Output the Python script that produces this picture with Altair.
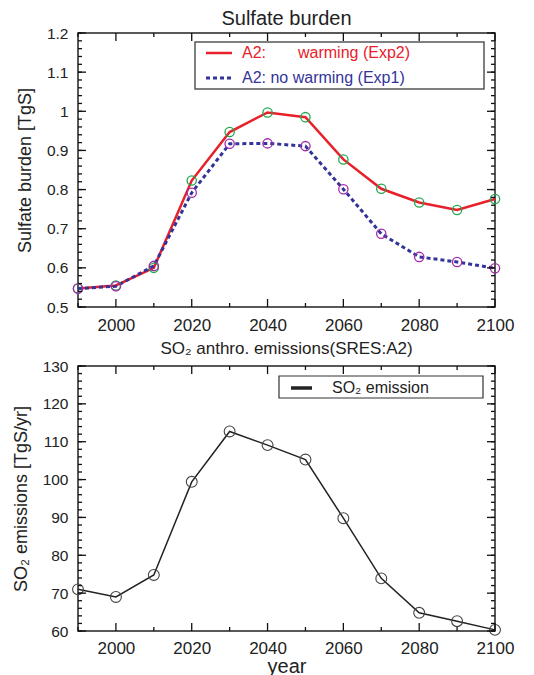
import altair as alt
import pandas as pd

FONT = "Liberation Sans"
TXT = "#222222"
RED = "#e8202a"
BLUE = "#33339a"
GREEN = "#1fa84f"
PURPLE = "#a22aa8"

years = [1990, 2000, 2010, 2020, 2030, 2040, 2050, 2060, 2070, 2080, 2090, 2100]
burden_warming = [0.547, 0.555, 0.600, 0.823, 0.947, 0.997, 0.985, 0.877, 0.802, 0.767, 0.748, 0.776]
burden_no_warming = [0.547, 0.553, 0.605, 0.792, 0.917, 0.918, 0.911, 0.801, 0.687, 0.628, 0.615, 0.599]
so2_emission = [71.0, 69.0, 74.8, 99.4, 112.7, 109.1, 105.3, 89.8, 73.9, 64.8, 62.6, 60.3]

x_major_ticks = [2000, 2020, 2040, 2060, 2080, 2100]
x_minor_ticks = [1990, 2010, 2030, 2050, 2070, 2090]
burden_major_ticks = [0.5, 0.6, 0.7, 0.8, 0.9, 1.0, 1.1, 1.2]
burden_minor_ticks = [round(0.5 + 0.02 * i, 2) for i in range(36)]
so2_major_ticks = [60, 70, 80, 90, 100, 110, 120, 130]
so2_minor_ticks = [60 + 2 * i for i in range(36)]

top_df = pd.DataFrame({"year": years, "warming": burden_warming, "no_warming": burden_no_warming})
bot_df = pd.DataFrame({"year": years, "so2": so2_emission})
one_row = pd.DataFrame({"k": [0]})

W = 417
H_TOP = 274
H_BOT = 265
X_DOM = [1990, 2100]


def label_layer(df, ycol, ydom, ymaj, ytitle, xtitle, yfmt, label_pad):
    xs = alt.Scale(domain=X_DOM, nice=False, zero=False)
    ys = alt.Scale(domain=ydom, nice=False, zero=False)
    xaxis_kw = dict(orient="bottom", values=x_major_ticks, ticks=False, tickSize=0, domain=False,
                    grid=False, format="d", labelFontSize=17, labelPadding=label_pad,
                    labelFont=FONT, labelColor=TXT, labelFlush=False, labelOverlap=False)
    if xtitle:
        xaxis = alt.Axis(title=xtitle, titleFont=FONT, titleFontSize=20,
                         titleFontWeight="normal", titleColor=TXT, titlePadding=0, **xaxis_kw)
    else:
        xaxis = alt.Axis(title=None, **xaxis_kw)
    layer = alt.Chart(df).mark_point(opacity=0).encode(
        x=alt.X("year:Q", scale=xs, axis=xaxis),
        y=alt.Y(f"{ycol}:Q", scale=ys, axis=alt.Axis(
            orient="left", values=ymaj, ticks=False, tickSize=0, domain=False,
            grid=False, format=yfmt, labelFontSize=15.5, labelPadding=10, labelFont=FONT,
            labelColor=TXT, labelFlush=False, labelOverlap=False, title=ytitle,
            titleFont=FONT, titleFontSize=18, titleFontWeight="normal", titleColor=TXT,
            titlePadding=12)),
    )
    return layer, xs, ys


def tick_layers(xs, ys, ydom, ymaj, ymin, H):
    """Inward frame ticks on all four sides; tick length in px converted to data units."""
    ylo, yhi = ydom
    xlo, xhi = X_DOM
    per_px_y = (yhi - ylo) / H
    per_px_x = (xhi - xlo) / W
    out = []
    for xv, px in [(x_major_ticks, 8), (x_minor_ticks, 4)]:
        L = px * per_px_y
        for a, b in [(ylo, ylo + L), (yhi, yhi - L)]:
            out.append(alt.Chart(one_row).transform_calculate(
                t=str(list(xv))).transform_flatten(["t"]).transform_calculate(
                a=f"{a}", b=f"{b}").mark_rule(color="#111111", strokeWidth=1.3).encode(
                x=alt.X("t:Q", scale=xs, axis=None),
                y=alt.Y("a:Q", scale=ys, axis=None),
                y2="b:Q"))
    for yv, px in [(ymaj, 8), (ymin, 4)]:
        L = px * per_px_x
        for a, b in [(xlo, xlo + L), (xhi, xhi - L)]:
            out.append(alt.Chart(one_row).transform_calculate(
                t=str(list(yv))).transform_flatten(["t"]).transform_calculate(
                a=f"{a}", b=f"{b}").mark_rule(color="#111111", strokeWidth=1.3).encode(
                y=alt.Y("t:Q", scale=ys, axis=None),
                x=alt.X("a:Q", scale=xs, axis=None),
                x2="b:Q"))
    return out


# ---------- top panel ----------
t_lab, txs, tys = label_layer(top_df, "warming", [0.5, 1.2], burden_major_ticks,
                              "Sulfate burden [TgS]", None, "~g", 10)
tx = alt.X("year:Q", scale=txs, axis=None)

red_line = alt.Chart(top_df).mark_line(color=RED, strokeWidth=2.5).encode(
    x=tx, y=alt.Y("warming:Q", scale=tys, axis=None))
blue_line = alt.Chart(top_df).mark_line(color=BLUE, strokeWidth=3, strokeDash=[4, 3]).encode(
    x=tx, y=alt.Y("no_warming:Q", scale=tys, axis=None))
green_pts = alt.Chart(top_df).mark_point(shape="circle", filled=False, color=GREEN, size=86,
                                         strokeWidth=1.3, opacity=1).encode(
    x=tx, y=alt.Y("warming:Q", scale=tys, axis=None))
purple_pts = alt.Chart(top_df).mark_point(shape="circle", filled=False, color=PURPLE, size=86,
                                          strokeWidth=1.3, opacity=1).encode(
    x=tx, y=alt.Y("no_warming:Q", scale=tys, axis=None))

t_box = alt.Chart(one_row).mark_rect(fill="white", stroke="#555555", strokeWidth=1.5).encode(
    x=alt.value(117), x2=alt.value(406), y=alt.value(9), y2=alt.value(56))
t_l1 = alt.Chart(one_row).mark_rule(color=RED, strokeWidth=2.5).encode(
    x=alt.value(128), x2=alt.value(154), y=alt.value(20))
t_l2 = alt.Chart(one_row).mark_rule(color=BLUE, strokeWidth=3, strokeDash=[4, 3]).encode(
    x=alt.value(128), x2=alt.value(154), y=alt.value(45))
t_t1a = alt.Chart(one_row).mark_text(text="A2:", align="left", baseline="middle", font=FONT,
                                     fontSize=16, color=RED).encode(x=alt.value(164), y=alt.value(20))
t_t1b = alt.Chart(one_row).mark_text(text="warming (Exp2)", align="left", baseline="middle",
                                     font=FONT, fontSize=16, color=RED).encode(x=alt.value(220), y=alt.value(20))
t_t2 = alt.Chart(one_row).mark_text(text="A2: no warming (Exp1)", align="left", baseline="middle",
                                    font=FONT, fontSize=16, color=BLUE).encode(x=alt.value(164), y=alt.value(45))

top = alt.layer(t_lab, red_line, blue_line, green_pts, purple_pts,
                t_box, t_l1, t_l2, t_t1a, t_t1b, t_t2,
                *tick_layers(txs, tys, [0.5, 1.2], burden_major_ticks, burden_minor_ticks, H_TOP)
                ).resolve_axis(x="independent", y="independent").properties(
    width=W, height=H_TOP,
    title=alt.TitleParams("Sulfate burden", font=FONT, fontSize=20, fontWeight="normal",
                          color=TXT, anchor="middle", offset=-3))

# ---------- bottom panel ----------
b_lab, bxs, bys = label_layer(bot_df, "so2", [60, 130], so2_major_ticks,
                              "SO₂ emissions [TgS/yr]", "year", "d", 9)
bx = alt.X("year:Q", scale=bxs, axis=None)
black_line = alt.Chart(bot_df).mark_line(color=TXT, strokeWidth=1.5).encode(
    x=bx, y=alt.Y("so2:Q", scale=bys, axis=None))
gray_pts = alt.Chart(bot_df).mark_point(shape="circle", filled=False, color="#444444", size=118,
                                        strokeWidth=1.1, opacity=1).encode(
    x=bx, y=alt.Y("so2:Q", scale=bys, axis=None))
b_box = alt.Chart(one_row).mark_rect(fill="white", stroke="#333333", strokeWidth=1.2).encode(
    x=alt.value(201), x2=alt.value(405), y=alt.value(10), y2=alt.value(32))
b_l = alt.Chart(one_row).mark_rule(color=TXT, strokeWidth=3.5).encode(
    x=alt.value(213), x2=alt.value(234), y=alt.value(22))
b_t = alt.Chart(one_row).mark_text(text="SO₂ emission", align="left", baseline="middle",
                                   font=FONT, fontSize=16, color=TXT).encode(
    x=alt.value(254), y=alt.value(22))

bottom = alt.layer(b_lab, black_line, gray_pts, b_box, b_l, b_t,
                   *tick_layers(bxs, bys, [60, 130], so2_major_ticks, so2_minor_ticks, H_BOT)
                   ).resolve_axis(x="independent", y="independent").properties(
    width=W, height=H_BOT,
    title=alt.TitleParams("SO₂ anthro. emissions(SRES:A2)", font=FONT, fontSize=17,
                          fontWeight="normal", color=TXT, anchor="middle", offset=1))

chart = alt.vconcat(top, bottom, spacing=5).properties(
    padding={"left": 3, "top": 0, "right": 5, "bottom": 0}
).configure_view(stroke=TXT, strokeWidth=1.5)

chart.save("out.html", embed_options={"renderer": "svg", "actions": False})
